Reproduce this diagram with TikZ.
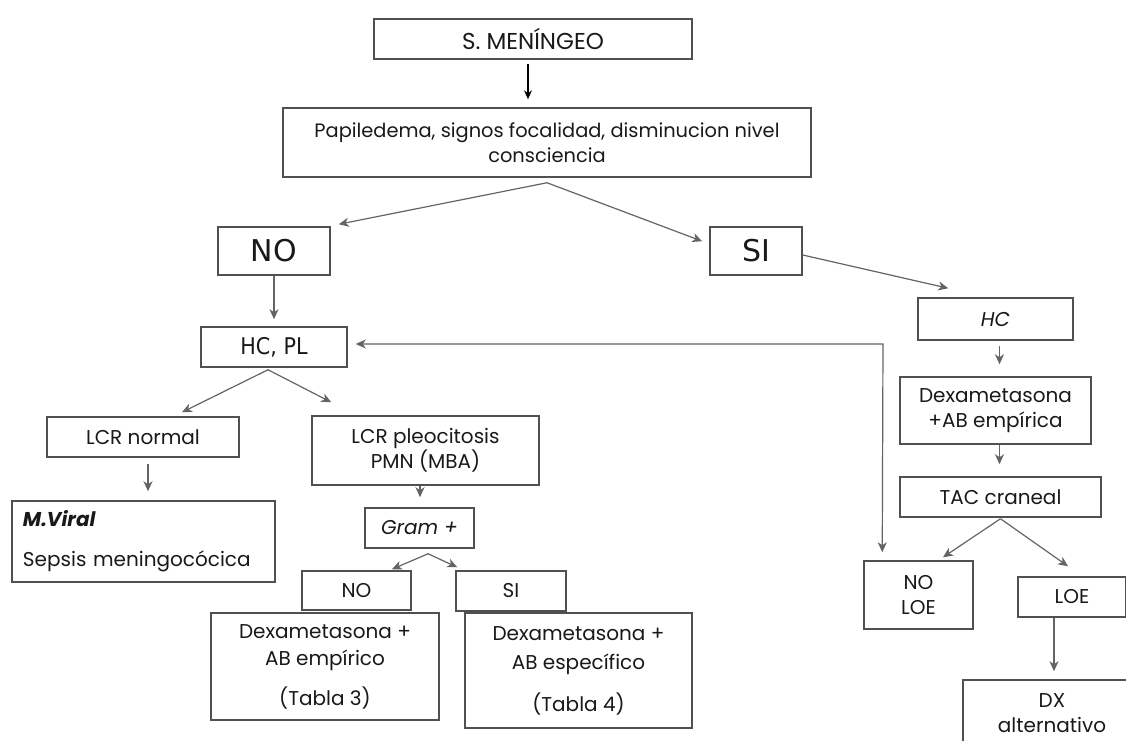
\documentclass[tikz,border=0pt]{standalone}
\usepackage{fontspec}
\setmainfont{Poppins}
\newfontfamily\tahfont{DejaVu Sans}
\newfontfamily\tahcond{DejaVu Sans Condensed}
\usepackage{tikz}
\usetikzlibrary{calc,arrows.meta}
\definecolor{boxline}{RGB}{80,80,80}
\definecolor{flowline}{RGB}{100,100,100}
\definecolor{inktext}{RGB}{25,25,25}

\begin{document}
\begin{tikzpicture}[x=0.5pt, y=-0.5pt,
 box/.style={draw=boxline, line width=0.75pt, rectangle, inner sep=0pt,
          text=inktext, align=center, font=\fontsize{10}{12.5}\selectfont},
 bigword/.style={font=\tahfont\fontsize{15}{18}\selectfont},
 arrow/.style={-{Stealth[length=5pt,width=4.5pt,inset=1.5pt]}, draw=flowline,
         line width=0.6pt},
 arrowboth/.style={{Stealth[length=5pt,width=4.5pt,inset=1.5pt]}-{Stealth[length=5pt,width=4.5pt,inset=1.5pt]},
         draw=flowline, line width=0.6pt},
 arrowdark/.style={-{Stealth[length=4.5pt,width=4pt]}, draw=black, line width=0.6pt}
]
\clip (0,0) rectangle (1126,740);
\fill[white] (0,0) rectangle (1126,740);
% Top of the chart
\node[box, font=\fontsize{11.5}{14}\selectfont, minimum width=159pt, minimum height=20pt] (smen) at (533,39) {S. MENÍNGEO};
\node[box, font=\fontsize{9.7}{12.5}\selectfont, minimum width=264pt, minimum height=34.5pt] (papil) at (547,142.5)
 {Papiledema, signos focalidad, disminucion nivel\\consciencia};
\node[box, bigword, minimum width=56pt, minimum height=24pt] (nobr) at (274,251) {NO};
\node[box, bigword, minimum width=46pt, minimum height=24pt] (sibr) at (756,251) {SI};
% Right branch
\node[box, minimum width=77.5pt, minimum height=21pt] (hc) at (995.5,319) {\itshape HC};
\node[box, minimum width=95.5pt, minimum height=33.5pt] (dexa) at (995.5,410.5)
 {Dexametasona\\+AB empírica};
\node[box, minimum width=100.5pt, minimum height=20pt] (tac) at (1000.5,497) {TAC craneal};
\node[box, minimum width=54.5pt, minimum height=34pt] (noloe) at (918.5,595) {NO\\LOE};
\node[box, minimum width=54pt, minimum height=20pt] (loe) at (1072,597) {LOE};
\node[box, minimum width=89pt, minimum height=33pt] (dxalt) at (1052,713) {DX\\alternativo};
% Left branch
\node[box, font=\tahcond\fontsize{11.5}{14}\selectfont, minimum width=73pt,
 minimum height=20pt] (hcpl) at (274,347) {HC, PL};
\node[box, minimum width=96pt, minimum height=20pt] (lcrn) at (143,437) {LCR normal};
\node[box, align=left, text width=120.5pt, minimum width=131.5pt, minimum height=40.5pt]
 (mviral) at (143.5,541.5) {{\bfseries\itshape M.Viral}\\[7.5pt]Sepsis meningocócica};
\node[box, minimum width=113.5pt, minimum height=34.5pt] (lcrp) at (425.5,450.5)
 {LCR pleocitosis\\PMN (MBA)};
\node[box, minimum width=54.5pt, minimum height=20pt] (gram) at (419.5,528) {\itshape Gram +};
\node[box, minimum width=54.5pt, minimum height=19.5pt] (nogram) at (356.5,590.5) {NO};
\node[box, minimum width=55pt, minimum height=20pt] (sigram) at (511,591) {SI};
\node[box, font=\fontsize{10}{13.5}\selectfont, minimum width=114pt, minimum height=53.5pt]
 (dexemp) at (325,666.5) {Dexametasona +\\AB empírico\\[6.5pt](Tabla 3)};
\node[box, font=\fontsize{10}{14.5}\selectfont, minimum width=113.5pt, minimum height=57.5pt]
 (dexesp) at (578.5,670.5) {Dexametasona +\\AB específico\\[6.5pt](Tabla 4)};
% Connectors
\coordinate (papsplit) at ($(papil.south)+(0,5)$);
\coordinate (tacsplit) at ($(tac.south)+(0,1)$);
\coordinate (hcplsplit) at ($(hcpl.south)+(-6,2)$);
\coordinate (gramsplit) at ($(gram.south)+(8.5,5)$);
\coordinate (backturn) at (883,344);
\draw[arrowdark, shorten <=2pt, shorten >=4pt] ([xshift=-2.5pt]smen.south) -- ([xshift=-2.5pt]smen.south |- papil.north);
\draw[arrow] (papsplit) -- ($(nobr.north east)+(8,-2)$);
\draw[arrow] (papsplit) -- ($(sibr.north west)+(-7,15)$);
\draw[arrow, shorten >=3.5pt] (nobr) -- (hcpl);
\draw[arrow] ($(sibr.east)+(0,4)$) -- ($(hc.north west)+(31,-9)$);
\draw[arrow, shorten <=2.5pt, shorten >=6pt] ([xshift=2pt]hc.south) -- ([xshift=2pt]hc.south |- dexa.north);
\draw[arrow, shorten >=6pt] ([xshift=2pt]dexa.south) -- ([xshift=2pt]dexa.south |- tac.north);
\draw[arrow] (tacsplit) -- ($(noloe.north)+(24.5,-3)$);
\draw[arrow] (tacsplit) -- ($(loe.north)+(-4,-10)$);
\draw[arrow, shorten >=4pt] ([xshift=-9pt]loe.south) -- ([xshift=-9pt]loe.south |- dxalt.north);
\draw[arrowboth] ($(hcpl.east)+(8,-3)$) -- (backturn) -- ($(noloe.north west)+(19,-8)$);
\draw[arrow] (hcplsplit) -- ($(lcrn.north)+(39,-4)$);
\draw[arrow] (hcplsplit) -- ($(lcrp.north west)+(20,-13)$);
\draw[arrow, shorten <=3pt, shorten >=4.5pt] ([xshift=2.5pt]lcrn.south) -- ([xshift=2.5pt]lcrn.south |- mviral.north);
\draw[arrow, shorten >=5pt] ([xshift=-2.75pt]lcrp.south) -- ([xshift=-2.75pt]lcrp.south |- gram.north);
\draw[arrow] (gramsplit) -- ($(nogram.north)+(35.5,-1)$);
\draw[arrow] (gramsplit) -- ($(sigram.north west)+(2,-3)$);
\end{tikzpicture}
\end{document}
